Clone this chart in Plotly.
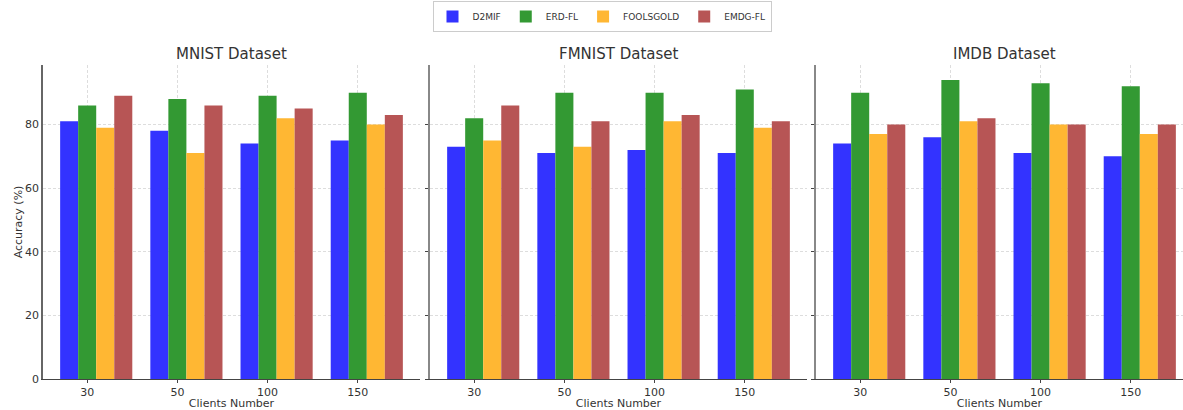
import plotly.graph_objects as go

clients = ["30", "50", "100", "150"]
datasets = ["MNIST Dataset", "FMNIST Dataset", "IMDB Dataset"]
methods = ["D2MIF", "ERD-FL", "FOOLSGOLD", "EMDG-FL"]
colors = ["rgb(51,51,255)", "rgb(51,153,51)", "rgb(255,183,51)", "rgb(183,85,85)"]

mnist = {
    "D2MIF": [81, 78, 74, 75],
    "ERD-FL": [86, 88, 89, 90],
    "FOOLSGOLD": [79, 71, 82, 80],
    "EMDG-FL": [89, 86, 85, 83],
}
fmnist = {
    "D2MIF": [73, 71, 72, 71],
    "ERD-FL": [82, 90, 90, 91],
    "FOOLSGOLD": [75, 73, 81, 79],
    "EMDG-FL": [86, 81, 83, 81],
}
imdb = {
    "D2MIF": [74, 76, 71, 70],
    "ERD-FL": [90, 94, 93, 92],
    "FOOLSGOLD": [77, 81, 80, 77],
    "EMDG-FL": [80, 82, 80, 80],
}
all_data = [mnist, fmnist, imdb]
yticks = [0, 20, 40, 60, 80]

W, H = 1183, 410
ml, mr, mt, mb = 43, 0, 65, 31
pw = W - ml - mr
px_dom = [(43, 420), (430, 807), (816, 1183)]
domains = [[(a - ml) / pw, (b - ml) / pw] for a, b in px_dom]

bar_w = 0.2
offsets = [-0.2, 0.0, 0.2, 0.4]
full_range = [-0.49, 3.69]
unit_px = (420 - 43) / (full_range[1] - full_range[0])

fig = go.Figure()
for p, data in enumerate(all_data):
    xa = "x" if p == 0 else f"x{p+1}"
    for j, m in enumerate(methods):
        fig.add_trace(go.Bar(
            x=[i + offsets[j] for i in range(len(clients))],
            y=data[m],
            width=bar_w,
            name=m,
            marker=dict(color=colors[j], line=dict(width=0)),
            showlegend=(p == 0),
            legendgroup=m,
            xaxis=xa,
            yaxis="y" if p == 0 else f"y{p+1}",
        ))

layout = dict(
    width=W, height=H,
    autosize=False,
    margin=dict(l=ml, r=mr, t=mt, b=mb),
    barmode="overlay",
    plot_bgcolor="white",
    paper_bgcolor="white",
    font=dict(family="DejaVu Sans", color="#333333", size=11),
    legend=dict(
        orientation="h",
        xref="container", yref="container",
        x=602 / W, y=1 - 1 / H, xanchor="center", yanchor="top",
        bordercolor="#cccccc", borderwidth=1,
        font=dict(size=9, color="#333333"),
        itemwidth=30,
    ),
)
annotations = []
for p in range(3):
    suf = "" if p == 0 else str(p + 1)
    a0, a1 = px_dom[p]
    rng = [full_range[0], full_range[0] + (a1 - a0) / unit_px]
    layout["xaxis" + suf] = dict(
        domain=domains[p],
        range=rng,
        tickvals=list(range(len(clients))),
        ticktext=clients,
        showgrid=True, gridcolor="#dddddd", griddash="3px,2px", gridwidth=1,
        showline=True, linecolor="#444444", linewidth=1.2,
        zeroline=False,
        automargin=False,
        ticks="outside", ticklen=3, tickcolor="#444444",
        tickfont=dict(size=11, color="#333333"),
        title=dict(text="Clients Number", font=dict(size=11, color="#333333"), standoff=0),
        anchor="y" + suf if p else "y",
    )
    layout["yaxis" + suf] = dict(
        domain=[0, 1],
        range=[0, 98.7],
        tickvals=yticks,
        ticktext=[str(v) for v in yticks] if p == 0 else [""] * len(yticks),
        showticklabels=(p == 0),
        showgrid=True, gridcolor="#dddddd", griddash="3px,2px", gridwidth=1,
        showline=True, linecolor="#888888" if p else "#666666", linewidth=1.5,
        zeroline=False,
        automargin=False,
        ticks="outside" if p else "", ticklen=3, tickcolor="#444444",
        tickfont=dict(size=11, color="#333333"),
        anchor="x" + suf if p else "x",
    )
    annotations.append(dict(
        text=datasets[p], xref="paper", yref="paper",
        x=((a0 + min(a0 + 377, 1193)) / 2 - ml) / pw, y=1, yshift=0,
        xanchor="center", yanchor="bottom", showarrow=False,
        font=dict(size=15, color="#333333"),
    ))
layout["yaxis"]["title"] = dict(text="Accuracy (%)", font=dict(size=11, color="#333333"), standoff=0)
layout["annotations"] = annotations
fig.update_layout(**layout)
fig.write_html("out.html", config={"displayModeBar": False},
               post_script="document.body.style.margin='0';")
